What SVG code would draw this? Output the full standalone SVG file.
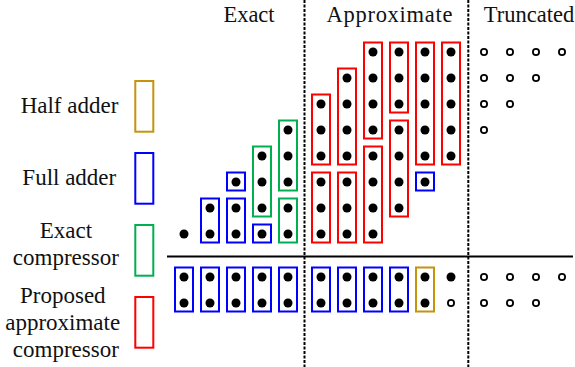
<svg xmlns="http://www.w3.org/2000/svg" width="575" height="367" viewBox="0 0 575 367">
<style>
.t{font-family:'Liberation Serif','Times New Roman','DejaVu Serif',serif;font-size:23px;fill:#111;text-anchor:middle}
.h{font-size:22.5px}
.b{fill:none;stroke-width:2}
.ha{stroke:#c4940c}
.fa{stroke:#0000ff}
.ec{stroke:#00b050}
.ac{stroke:#ff0000}
.d{fill:#000}
.o{fill:none;stroke:#000;stroke-width:1.8}
.dash{stroke:#000;stroke-width:2;stroke-dasharray:3 1.5}
</style>
<defs>
<circle id="d" r="4.5" class="d"/>
<circle id="o" r="3.1" class="o"/>
</defs>
<g id="headers" font-family="Liberation Serif, Times New Roman, serif">
<text class="t h" x="249" y="22">Exact</text>
<text class="t h" x="389.5" y="22" textLength="126" lengthAdjust="spacing">Approximate</text>
<text class="t h" x="529" y="22">Truncated</text>
</g>
<g id="connectors">
<line class="dash" x1="304.5" y1="0" x2="304.5" y2="367"/>
<line class="dash" x1="468.3" y1="0" x2="468.3" y2="367"/>
<line x1="167" y1="256.5" x2="573" y2="256.5" stroke="#000" stroke-width="2"/>
</g>
<g id="legend-half-adder" font-family="Liberation Serif, Times New Roman, serif">
<text class="t" x="69.5" y="113">Half adder</text>
<rect class="b ha" x="135.3" y="81" width="18" height="50.7"/>
</g>
<g id="legend-full-adder" font-family="Liberation Serif, Times New Roman, serif">
<text class="t" x="69.3" y="185">Full adder</text>
<rect class="b fa" x="135.3" y="153" width="18" height="50.7"/>
</g>
<g id="legend-exact-compressor" font-family="Liberation Serif, Times New Roman, serif">
<text class="t" x="66" y="238">Exact</text>
<text class="t" x="65.8" y="265">compressor</text>
<rect class="b ec" x="135.3" y="225" width="18" height="50.7"/>
</g>
<g id="legend-approx-compressor" font-family="Liberation Serif, Times New Roman, serif">
<text class="t" x="62.8" y="303">Proposed</text>
<text class="t" x="62.7" y="330">approximate</text>
<text class="t" x="65.8" y="357">compressor</text>
<rect class="b ac" x="135.3" y="297" width="18" height="50.7"/>
</g>
<g id="exact-region">
<use href="#d" x="184" y="234"/>
<rect class="b fa" x="201" y="198.5" width="18" height="44"/>
<use href="#d" x="210" y="208"/><use href="#d" x="210" y="234"/>
<rect class="b fa" x="227" y="198.5" width="18" height="44"/>
<use href="#d" x="236" y="208"/><use href="#d" x="236" y="234"/>
<rect class="b fa" x="227" y="172.5" width="18" height="18"/>
<use href="#d" x="236" y="182"/>
<rect class="b fa" x="253" y="224.5" width="18" height="18"/>
<use href="#d" x="262" y="234"/>
<rect class="b ec" x="253" y="146.5" width="18" height="70"/>
<use href="#d" x="262" y="156"/><use href="#d" x="262" y="182"/><use href="#d" x="262" y="208"/>
<rect class="b ec" x="279" y="198.5" width="18" height="44"/>
<use href="#d" x="288" y="208"/><use href="#d" x="288" y="234"/>
<rect class="b ec" x="279" y="120.5" width="18" height="70"/>
<use href="#d" x="288" y="130"/><use href="#d" x="288" y="156"/><use href="#d" x="288" y="182"/>
</g>
<g id="approximate-region">
<rect class="b ac" x="312" y="172.5" width="18" height="70"/>
<use href="#d" x="321" y="182"/><use href="#d" x="321" y="208"/><use href="#d" x="321" y="234"/>
<rect class="b ac" x="312" y="94.5" width="18" height="70"/>
<use href="#d" x="321" y="104"/><use href="#d" x="321" y="130"/><use href="#d" x="321" y="156"/>
<rect class="b ac" x="338" y="172.5" width="18" height="70"/>
<use href="#d" x="347" y="182"/><use href="#d" x="347" y="208"/><use href="#d" x="347" y="234"/>
<rect class="b ac" x="338" y="68.5" width="18" height="96"/>
<use href="#d" x="347" y="78"/><use href="#d" x="347" y="104"/><use href="#d" x="347" y="130"/><use href="#d" x="347" y="156"/>
<rect class="b ac" x="364" y="146.5" width="18" height="96"/>
<use href="#d" x="373" y="156"/><use href="#d" x="373" y="182"/><use href="#d" x="373" y="208"/><use href="#d" x="373" y="234"/>
<rect class="b ac" x="364" y="42.5" width="18" height="96"/>
<use href="#d" x="373" y="52"/><use href="#d" x="373" y="78"/><use href="#d" x="373" y="104"/><use href="#d" x="373" y="130"/>
<rect class="b ac" x="390" y="120.5" width="18" height="96"/>
<use href="#d" x="399" y="130"/><use href="#d" x="399" y="156"/><use href="#d" x="399" y="182"/><use href="#d" x="399" y="208"/>
<rect class="b ac" x="390" y="42.5" width="18" height="70"/>
<use href="#d" x="399" y="52"/><use href="#d" x="399" y="78"/><use href="#d" x="399" y="104"/>
<rect class="b fa" x="416" y="172.5" width="18" height="18"/>
<use href="#d" x="425" y="182"/>
<rect class="b ac" x="416" y="42.5" width="18" height="122"/>
<use href="#d" x="425" y="52"/><use href="#d" x="425" y="78"/><use href="#d" x="425" y="104"/><use href="#d" x="425" y="130"/><use href="#d" x="425" y="156"/>
<rect class="b ac" x="442" y="42.5" width="18" height="122"/>
<use href="#d" x="451" y="52"/><use href="#d" x="451" y="78"/><use href="#d" x="451" y="104"/><use href="#d" x="451" y="130"/><use href="#d" x="451" y="156"/>
</g>
<g id="truncated-region">
<use href="#o" x="484" y="52"/><use href="#o" x="510" y="52"/><use href="#o" x="536" y="52"/><use href="#o" x="562" y="52"/>
<use href="#o" x="484" y="78"/><use href="#o" x="510" y="78"/><use href="#o" x="536" y="78"/>
<use href="#o" x="484" y="104"/><use href="#o" x="510" y="104"/>
<use href="#o" x="484" y="130"/>
</g>
<g id="result-row">
<rect class="b fa" x="175" y="267.5" width="18" height="44"/>
<rect class="b fa" x="201" y="267.5" width="18" height="44"/>
<rect class="b fa" x="227" y="267.5" width="18" height="44"/>
<rect class="b fa" x="253" y="267.5" width="18" height="44"/>
<rect class="b fa" x="279" y="267.5" width="18" height="44"/>
<rect class="b fa" x="312" y="267.5" width="18" height="44"/>
<rect class="b fa" x="338" y="267.5" width="18" height="44"/>
<rect class="b fa" x="364" y="267.5" width="18" height="44"/>
<rect class="b fa" x="390" y="267.5" width="18" height="44"/>
<rect class="b ha" x="416" y="267.5" width="18" height="44"/>
<use href="#d" x="184" y="277"/><use href="#d" x="184" y="303"/>
<use href="#d" x="210" y="277"/><use href="#d" x="210" y="303"/>
<use href="#d" x="236" y="277"/><use href="#d" x="236" y="303"/>
<use href="#d" x="262" y="277"/><use href="#d" x="262" y="303"/>
<use href="#d" x="288" y="277"/><use href="#d" x="288" y="303"/>
<use href="#d" x="321" y="277"/><use href="#d" x="321" y="303"/>
<use href="#d" x="347" y="277"/><use href="#d" x="347" y="303"/>
<use href="#d" x="373" y="277"/><use href="#d" x="373" y="303"/>
<use href="#d" x="399" y="277"/><use href="#d" x="399" y="303"/>
<use href="#d" x="425" y="277"/><use href="#d" x="425" y="303"/>
<use href="#d" x="451" y="277"/><use href="#o" x="451" y="303"/>
<use href="#o" x="484" y="277"/><use href="#o" x="510" y="277"/><use href="#o" x="536" y="277"/><use href="#o" x="562" y="277"/>
<use href="#o" x="484" y="303"/><use href="#o" x="510" y="303"/><use href="#o" x="536" y="303"/>
</g>
</svg>
